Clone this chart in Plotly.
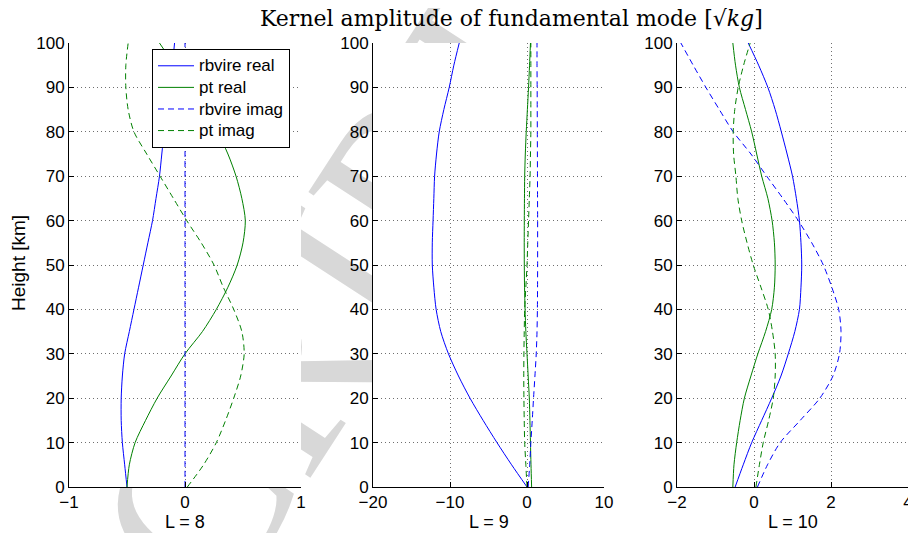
import plotly.graph_objects as go

# heights [km]
height = [0, 5, 10, 15, 20, 25, 30, 35, 40, 45, 50, 55, 60, 65, 70, 75, 80, 85, 90, 95, 100]

# L = 8
rb_real_8 = [-0.50, -0.52, -0.54, -0.55, -0.55, -0.54, -0.52, -0.48, -0.44, -0.40, -0.36,
             -0.32, -0.28, -0.25, -0.22, -0.20, -0.18, -0.16, -0.14, -0.11, -0.09]
pt_real_8 = [-0.50, -0.48, -0.43, -0.34, -0.24, -0.12, 0.00, 0.15, 0.27, 0.37, 0.45,
             0.50, 0.52, 0.49, 0.44, 0.37, 0.28, 0.17, 0.04, -0.09, -0.22]
rb_imag_8 = [0.0] * 21
pt_imag_8 = [0.02, 0.16, 0.27, 0.35, 0.42, 0.48, 0.51, 0.49, 0.42, 0.33, 0.25,
             0.14, 0.015, -0.10, -0.215, -0.33, -0.44, -0.49, -0.51, -0.51, -0.49]

# L = 9
rb_real_9 = [0.0, -2.0, -3.9, -5.7, -7.4, -8.9, -10.2, -11.2, -11.8, -12.1, -12.3,
             -12.3, -12.2, -12.1, -12.0, -11.75, -11.4, -10.8, -10.1, -9.5, -8.8]
pt_real_9 = [0.60, 0.52, 0.45, 0.38, 0.30, 0.15, 0.00, -0.15, -0.25, -0.32, -0.35,
             -0.36, -0.35, -0.33, -0.30, -0.22, -0.10, 0.05, 0.20, 0.33, 0.45]
rb_imag_9 = [0.15, 0.35, 0.50, 0.68, 0.85, 1.03, 1.20, 1.30, 1.35, 1.37, 1.38,
             1.38, 1.38, 1.37, 1.36, 1.35, 1.34, 1.33, 1.32, 1.30, 1.30]
pt_imag_9 = [0.00, -0.15, -0.30, -0.36, -0.40, -0.42, -0.40, -0.36, -0.30, -0.15, 0.00,
             0.10, 0.20, 0.30, 0.40, 0.45, 0.50, 0.50, 0.50, 0.50, 0.50]

# L = 10
rb_real_10 = [-0.49, -0.28, -0.06, 0.20, 0.46, 0.70, 0.89, 1.06, 1.18, 1.22, 1.24,
              1.22, 1.18, 1.10, 1.00, 0.86, 0.71, 0.55, 0.36, 0.12, -0.15]
pt_real_10 = [-0.55, -0.52, -0.45, -0.36, -0.25, -0.08, 0.10, 0.30, 0.46, 0.53, 0.55,
              0.53, 0.47, 0.36, 0.20, 0.07, -0.06, -0.22, -0.38, -0.48, -0.55]
rb_imag_10 = [0.09, 0.35, 0.68, 1.20, 1.71, 2.05, 2.22, 2.26, 2.20, 2.02, 1.80,
              1.50, 1.15, 0.75, 0.33, -0.08, -0.54, -0.90, -1.25, -1.58, -1.90]
pt_imag_10 = [0.05, 0.14, 0.24, 0.38, 0.50, 0.55, 0.55, 0.48, 0.37, 0.18, -0.02,
              -0.18, -0.32, -0.42, -0.47, -0.53, -0.54, -0.50, -0.41, -0.27, -0.10]

panels = [
    ("L = 8", [-1, 1], 1, rb_real_8, pt_real_8, rb_imag_8, pt_imag_8),
    ("L = 9", [-20, 10], 10, rb_real_9, pt_real_9, rb_imag_9, pt_imag_9),
    ("L = 10", [-2, 4], 2, rb_real_10, pt_real_10, rb_imag_10, pt_imag_10),
]

# the page body has an 8px margin, so the figure is a bit smaller than the window
OFF = 8
W, H = 916 - OFF, 533 - OFF


def px(x):
    return (x - OFF) / W


def py(y):
    return 1 - (y - OFF) / H


x_domains = [[px(69), px(301)], [px(373), px(604)], [px(677), px(908)]]
y_domain = [py(487), py(43)]

BLUE = "#0000ff"
GREEN = "#008000"
DASH = "6px,4px"
SANS = "Liberation Sans, Arial"

fig = go.Figure()

# watermark, sitting behind the (white) axes backgrounds
fig.add_shape(
    type="line", xref="paper", yref="paper",
    x0=px(20), y0=py(721), x1=px(136), y1=py(557),
    line=dict(width=0), layer="below",
    label=dict(text="MANUSCRIPT", textangle=-57, textposition="middle",
               xanchor="center", yanchor="middle",
               font=dict(family="Liberation Serif", size=240, color="#d8d8d8")))
for xd in x_domains:
    fig.add_shape(type="rect", xref="paper", yref="paper",
                  x0=xd[0], x1=xd[1], y0=y_domain[0], y1=y_domain[1],
                  fillcolor="white", line=dict(width=0), layer="below")

for i, (name, xr, dt, rr, pr, ri, pi) in enumerate(panels):
    n = "" if i == 0 else str(i + 1)
    show = i == 0
    series = [
        ("rbvire real", rr, BLUE, "solid"),
        ("pt real", pr, GREEN, "solid"),
        ("rbvire imag", ri, BLUE, DASH),
        ("pt imag", pi, GREEN, DASH),
    ]
    for label, vals, col, dash in series:
        fig.add_trace(go.Scatter(
            x=vals, y=height, mode="lines",
            name="<span style='font-size:17px'>" + label + "</span>",
            showlegend=show,
            line=dict(color=col, width=1, dash=dash, shape="spline", smoothing=0.8),
            xaxis="x" + n, yaxis="y" + n))

    axis_common = dict(
        showgrid=True, gridcolor="#6f6f6f", griddash="1px,3px", gridwidth=1,
        zeroline=False, showline=True, linecolor="black", linewidth=1,
        ticks="inside", ticklen=5, tickcolor="black", automargin=False,
        tickfont=dict(family=SANS, size=17, color="black"),
    )
    fig.update_layout({
        "xaxis" + n: dict(axis_common, domain=x_domains[i], range=xr, dtick=dt,
                          tick0=xr[0], anchor="y" + n),
        "yaxis" + n: dict(axis_common, domain=y_domain, range=[0, 100], dtick=10,
                          anchor="x" + n),
    })
    # x-axis label under each panel
    fig.add_annotation(
        text=name, x=sum(x_domains[i]) / 2, y=py(522), xref="paper", yref="paper",
        xanchor="center", yanchor="middle", showarrow=False,
        font=dict(family=SANS, size=18, color="black"))

fig.add_annotation(
    text="Height [km]", x=px(18), y=py(263), xref="paper", yref="paper",
    xanchor="center", yanchor="middle", textangle=-90, showarrow=False,
    font=dict(family=SANS, size=19, color="black"))

# title
fig.add_annotation(
    text="Kernel amplitude of fundamental mode [√<i>kg</i>]",
    x=px(511), y=py(18), xref="paper", yref="paper",
    xanchor="center", yanchor="middle", showarrow=False,
    font=dict(family="DejaVu Serif", size=22, color="black"))

fig.update_layout(
    width=W, height=H,
    margin=dict(l=0, r=0, t=0, b=0),
    paper_bgcolor="white", plot_bgcolor="rgba(0,0,0,0)",
    legend=dict(x=px(152), y=py(49), xanchor="left", yanchor="top",
                bgcolor="white", bordercolor="black", borderwidth=1,
                font=dict(family=SANS, size=14.3, color="black"),
                itemwidth=36, tracegroupgap=0),
)

fig.write_html("out.html")
